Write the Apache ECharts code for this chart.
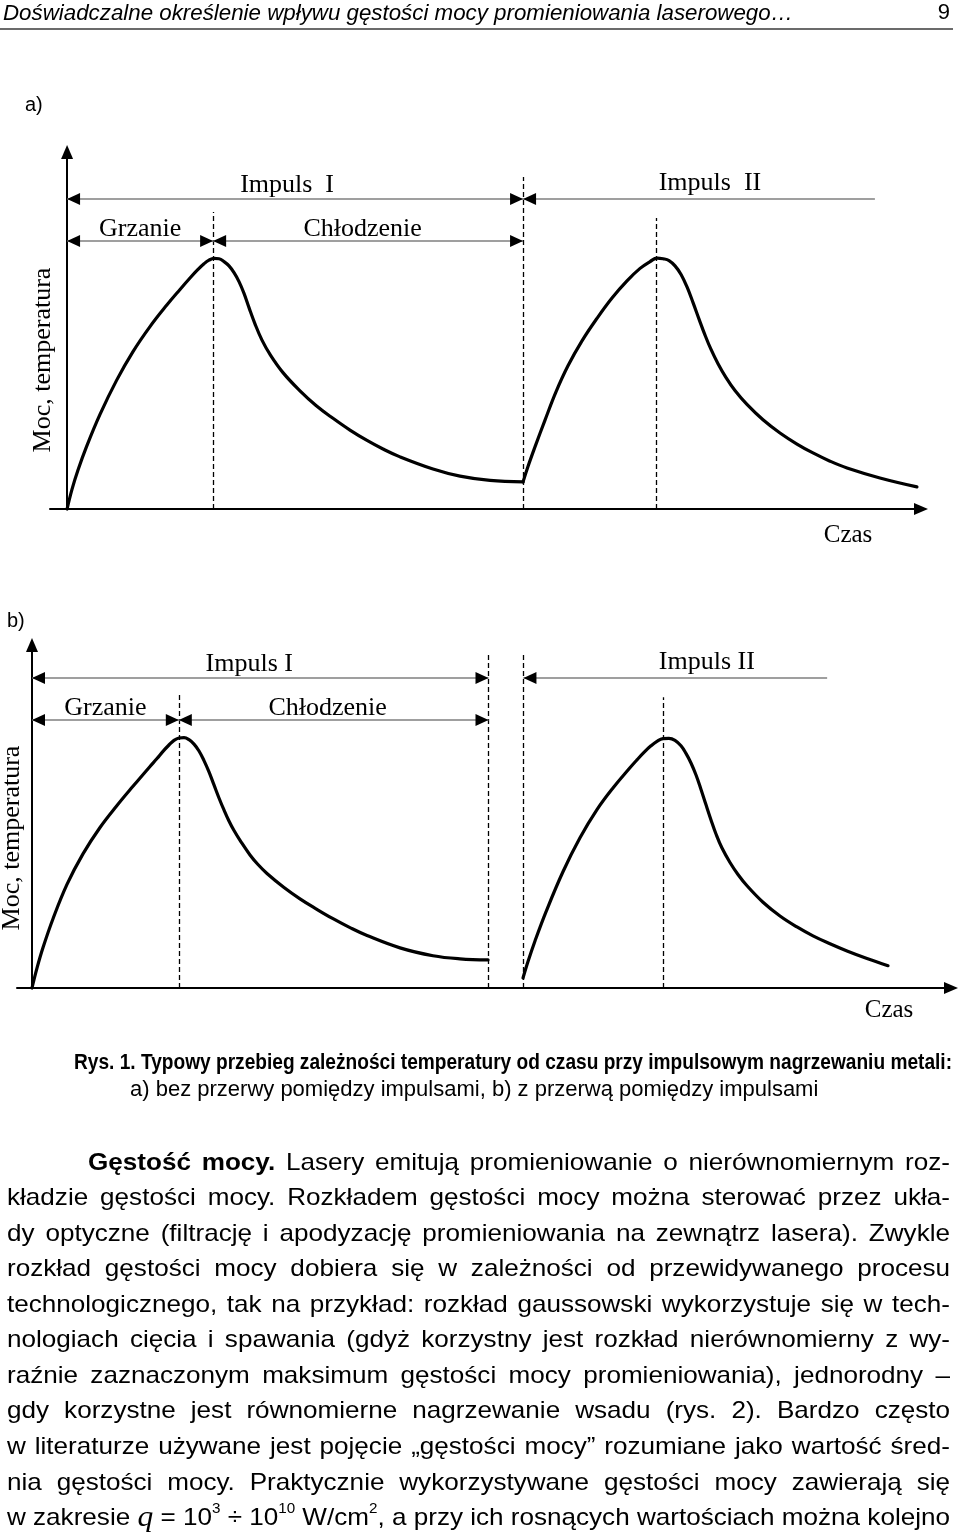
<!DOCTYPE html>
<html><head><meta charset="utf-8">
<script src="https://cdn.jsdelivr.net/npm/echarts@6/dist/echarts.min.js"></script>
<style>html,body{margin:0;padding:0;background:#fff}#c{width:960px;height:1532px}</style>
</head><body><div id="c"></div>
<script>
// ---------- chart a) data (time units, temperature units) ----------
const aPulse1 = [[0,0],[1.15,5.5],[2.56,10.9],[4.6,17.6],[7.71,26.5],[11.62,36.1],[15.44,44.1],[19.42,51.1],[23.41,57.2],[26.45,61.5],[28.79,64.7],[30.66,67.1],[32.07,68.7],[33.24,69.7],[34.41,70.2],[35.58,70.1],[36.76,69.3],[37.93,68.1],[39.1,66.2],[40.27,63.7],[41.44,60.4],[42.61,56.4],[44.03,51.8],[45.65,47.3],[47.53,43.3],[50.57,38.2],[54.55,33.1],[58.3,29.0],[62.28,25.4],[66.26,22.1],[70.25,19.2],[73.99,16.8],[77.98,14.6],[85.7,11.2],[92.03,9.2],[99.06,8.0],[106.8,7.6]];
const aPulse2 = [[106.8,7.6],[107.95,11.9],[109.59,17.4],[111.94,24.9],[114.51,32.8],[117.32,40.1],[120.6,47.1],[124.11,53.4],[127.63,59.1],[131.14,63.9],[134.2,67.4],[136.54,69.3],[138.18,70.3],[139.58,70.1],[140.99,69.6],[142.39,68.1],[143.8,65.7],[145.2,62.2],[146.61,57.8],[148.01,53.2],[149.42,48.7],[150.82,44.7],[152.46,40.7],[154.34,36.8],[156.43,33.2],[159.24,29.3],[162.99,25.0],[166.97,21.3],[170.95,18.2],[174.7,15.7],[178.69,13.4],[182.67,11.5],[190.38,8.7],[199.05,6.2]];
const aDashX = [34.2, 106.8, 138.1];
const aDashTop = [83.2, 93.0, 81.5];
const aLabels = ['Impuls  I', 'Impuls  II', 'Grzanie', 'Chłodzenie'];
const aSpans = [[0,106.8],[106.8,189.2],[0,34.2],[34.2,106.8]];
const aLevels = [86.8, 86.8, 75.1, 75.1];
const aArrows = [[1,1],[1,0],[1,1],[1,1]];

// ---------- chart b) data ----------
const bPulse1 = [[0,0],[1.0,5.8],[2.21,11.8],[4.21,20.2],[7.01,30.2],[10.21,39.1],[13.62,46.8],[17.02,53.2],[20.22,58.8],[23.63,64.6],[25.03,66.9],[26.23,69.0],[27.33,70.7],[28.43,72.2],[29.43,72.9],[30.44,73.0],[31.44,72.4],[32.44,71.1],[33.44,69.1],[34.44,66.3],[35.44,63.0],[36.44,59.2],[37.44,55.4],[38.44,51.9],[39.44,48.7],[40.45,45.9],[41.85,42.6],[43.65,38.8],[45.25,36.0],[47.05,33.4],[50.46,29.3],[53.66,26.0],[56.86,23.1],[60.27,20.2],[63.67,17.6],[67.08,15.3],[73.68,11.7],[80.29,9.4],[85.69,8.5],[91.3,8.2]];
const bPulse2 = [[98.31,2.9],[99.31,7.7],[100.71,13.7],[102.91,22.2],[106.31,33.9],[109.72,43.8],[113.12,52.0],[116.32,58.3],[119.72,64.2],[121.12,66.5],[122.53,68.7],[123.93,70.6],[125.13,71.9],[126.33,72.7],[127.53,72.8],[128.74,72.2],[129.94,70.6],[130.94,68.4],[131.94,65.6],[132.95,62.1],[133.95,57.9],[134.95,53.4],[135.95,49.0],[136.95,44.9],[138.15,40.8],[139.75,36.6],[141.35,33.1],[143.16,29.8],[146.36,25.0],[149.76,21.0],[153.16,17.8],[156.37,15.2],[159.77,12.9],[163.18,10.8],[167.18,8.6],[171.39,6.5]];
const bDashX = [29.4, 91.4, 98.4, 126.4];
const bDashTop = [86.3, 97.1, 97.1, 84.8];
const bLabels = ['Impuls I', 'Impuls II', 'Grzanie', 'Chłodzenie'];
const bSpans = [[0,91.4],[98.4,159.2],[0,29.4],[29.4,91.4]];
const bLevels = [90.4, 90.4, 78.1, 78.1];
const bArrows = [[1,1],[1,0],[1,1],[1,1]];

const axisName = 'Moc, temperatura';
const timeName = 'Czas';

// ---------- page texts ----------
const headerText = 'Doświadczalne określenie wpływu gęstości mocy promieniowania laserowego…';
const pageNo = '9';
const captionLine1 = 'Rys. 1. Typowy przebieg zależności temperatury od czasu przy impulsowym nagrzewaniu metali:';
const captionLine2 = 'a) bez przerwy pomiędzy impulsami, b) z przerwą pomiędzy impulsami';
const bodyLines = [
 '*Gęstość *mocy. Lasery emitują promieniowanie o nierównomiernym roz-',
 'kładzie gęstości mocy. Rozkładem gęstości mocy można sterować przez ukła-',
 'dy optyczne (filtrację i apodyzację promieniowania na zewnątrz lasera). Zwykle',
 'rozkład gęstości mocy dobiera się w zależności od przewidywanego procesu',
 'technologicznego, tak na przykład: rozkład gaussowski wykorzystuje się w tech-',
 'nologiach cięcia i spawania (gdyż korzystny jest rozkład nierównomierny z wy-',
 'raźnie zaznaczonym maksimum gęstości mocy promieniowania), jednorodny –',
 'gdy korzystne jest równomierne nagrzewanie wsadu (rys. 2). Bardzo często',
 'w literaturze używane jest pojęcie „gęstości mocy” rozumiane jako wartość śred-',
 'nia gęstości mocy. Praktycznie wykorzystywane gęstości mocy zawierają się',
 'w zakresie _q = 10^3 ÷ 10^10 W/cm^2, a przy ich rosnących wartościach można kolejno'
];

// ---------- styling ----------
const SANS = '"Liberation Sans", Arial, sans-serif';
const SERIF = '"Liberation Serif", "Times New Roman", serif';
const ctx = document.createElement('canvas').getContext('2d');
function measure(t, font){ ctx.font = font; return ctx.measureText(t).width; }
function txt(t, x, y, font, o){
  o = o || {};
  return {type:'text', x:x, y:y, rotation:o.rot||0, scaleX:o.sx||1, silent:true, z:10,
    style:{text:t, font:font, fill:'#000', align:o.align||'left', verticalAlign:'middle',
           textAlign:o.align||'left', textVerticalAlign:'middle'}};
}

const cfgs = [
  {p:[aPulse1,aPulse2], dx:aDashX, dt:aDashTop, lab:aLabels, sp:aSpans, lv:aLevels, ar:aArrows,
   xMin:-4, xMax:200, grid:{left:50, top:152, width:871, height:357},
   pad:[[0,16,0,0],[0,0,0,22],[0,0,0,0],[0,11,0,0]], dist:[1,2.5,-1,-1]},
  {p:[bPulse1,bPulse2], dx:bDashX, dt:bDashTop, lab:bLabels, sp:bSpans, lv:bLevels, ar:bArrows,
   xMin:-3, xMax:184, grid:{left:17, top:645, width:934, height:343},
   pad:[[0,22,0,0],[0,0,0,63],[0,0,0,0],[0,12,0,0]], dist:[0.5,2.5,-1.3,-1.3]}
];

const grids = [], xAxes = [], yAxes = [], series = [];
const axisLineStyle = {show:true, onZero:true, symbol:['none','triangle'], symbolSize:[12,14], lineStyle:{color:'#000', width:2}};
function head(x, y, dir){
  return {coord:[x,y], symbol:'triangle', symbolSize:[12,13],
    symbolRotate: dir === 'l' ? 90 : -90, symbolOffset: dir === 'l' ? [6.5,0] : [-6.5,0],
    itemStyle:{color:'#000'}, label:{show:false}};
}
cfgs.forEach(function(c, gi){
  grids.push(Object.assign({containLabel:false, outerBoundsMode:'none'}, c.grid));
  xAxes.push({type:'value', gridIndex:gi, min:c.xMin, max:c.xMax, axisLine:axisLineStyle,
    axisTick:{show:false}, axisLabel:{show:false}, splitLine:{show:false}});
  yAxes.push({type:'value', gridIndex:gi, min:0, max:100, axisLine:axisLineStyle,
    axisTick:{show:false}, axisLabel:{show:false}, splitLine:{show:false}});
  const dash = c.dx.map(function(x,i){ return [{coord:[x,0]},{coord:[x,c.dt[i]]}]; });
  const dims = c.sp.map(function(s,i){
    return [{coord:[s[0],c.lv[i]], label:{show:true, formatter:c.lab[i], position:'insideMiddleTop',
              distance:c.dist[i], padding:c.pad[i], color:'#000', fontFamily:SERIF, fontSize:26}},
            {coord:[s[1],c.lv[i]]}];
  });
  const heads = [];
  c.ar.forEach(function(a,i){
    if (a[0]) heads.push(head(c.sp[i][0], c.lv[i], 'l'));
    if (a[1]) heads.push(head(c.sp[i][1], c.lv[i], 'r'));
  });
  const base = {type:'line', xAxisIndex:gi, yAxisIndex:gi, smooth:0.4, symbol:'none', showSymbol:false,
    clip:false, silent:true, lineStyle:{color:'#000', width:3.2, join:'round', cap:'round'}, z:3};
  series.push(Object.assign({}, base, {data:c.p[0],
    markLine:{silent:true, symbol:['none','none'], label:{show:false},
      lineStyle:{type:[5,3], color:'#000', width:1.3}, data:dash}}));
  series.push(Object.assign({}, base, {data:c.p[1],
    markLine:{silent:true, symbol:['none','none'], label:{show:false},
      lineStyle:{type:'solid', color:'#7f7f7f', width:1.6}, data:dims},
    markPoint:{silent:true, label:{show:false}, data:heads}}));
});

// ---------- page graphics ----------
const g = [];
const fHeader = 'italic 22px ' + SANS;
g.push(txt(headerText, 3, 14, fHeader, {sx: 790 / measure(headerText, fHeader)}));
g.push(txt(pageNo, 950, 13, '22px ' + SANS, {align:'right'}));
g.push({type:'line', silent:true, shape:{x1:0,y1:29,x2:953,y2:29}, style:{stroke:'#6b6b6b', lineWidth:2}});
g.push(txt('a)', 25, 105, '20px ' + SANS));
g.push(txt('b)', 7, 621, '20px ' + SANS));
g.push(txt(axisName, 43, 360, '26px ' + SERIF, {rot:Math.PI/2, align:'center'}));
g.push(txt(axisName, 12, 838, '26px ' + SERIF, {rot:Math.PI/2, align:'center'}));
g.push(txt(timeName, 848, 535, '25px ' + SERIF, {align:'center'}));
g.push(txt(timeName, 889, 1010, '25px ' + SERIF, {align:'center'}));
const fCap1 = 'bold 22px ' + SANS;
g.push(txt(captionLine1, 74, 1063, fCap1, {sx: 878 / measure(captionLine1, fCap1)}));
g.push(txt(captionLine2, 130, 1090, '22px ' + SANS));

// body paragraph: justified, word by word
const pieceFont = {n:'24px ' + SANS, b:'bold 24px ' + SANS, q:'italic 29px ' + SERIF, s:'14px ' + SANS};
const pieceDy = {n:0, b:0, q:0, s:-9};
function parseToken(tok){
  if (tok[0] === '*') return [[tok.slice(1),'b']];
  if (tok[0] === '_') return [[tok.slice(1),'q']];
  return tok.split(/\^(\d+)/).map(function(p,i){ return [p, i % 2 ? 's' : 'n']; })
            .filter(function(p){ return p[0].length; });
}
const R = 950;
const lay = bodyLines.map(function(line, li){
  const L = li === 0 ? 88 : 7;
  const words = line.split(' ').map(parseToken);
  const widths = words.map(function(ps){ return ps.reduce(function(s,p){ return s + measure(p[0], pieceFont[p[1]]); }, 0); });
  const total = widths.reduce(function(a,b){ return a+b; }, 0);
  return {L:L, words:words, total:total};
});
const spaceW = measure(' ', pieceFont.n);
let sx = Infinity;
lay.forEach(function(o){ sx = Math.min(sx, (R - o.L) / (o.total + (o.words.length - 1) * spaceW)); });
sx = Math.max(0.85, Math.min(1.3, sx));
lay.forEach(function(o, li){
  const yc = 1163 + 35.55 * li;
  const gap = (R - o.L - o.total * sx) / (o.words.length - 1);
  let x = o.L;
  o.words.forEach(function(ps){
    ps.forEach(function(p){
      g.push(txt(p[0], x, yc + pieceDy[p[1]], pieceFont[p[1]], {sx:sx}));
      x += measure(p[0], pieceFont[p[1]]) * sx;
    });
    x += gap;
  });
});

const chart = echarts.init(document.getElementById('c'), null, {renderer:'canvas'});
chart.setOption({
  animation:false, backgroundColor:'#fff',
  grid:grids, xAxis:xAxes, yAxis:yAxes, series:series,
  graphic:{elements:g}
});
</script></body></html>
